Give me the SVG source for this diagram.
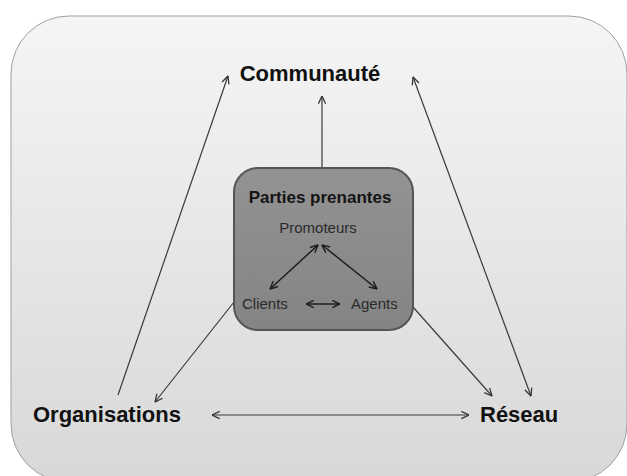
<svg xmlns="http://www.w3.org/2000/svg" width="627" height="476" viewBox="0 0 627 476">
  <defs>
    <linearGradient id="bgFill" x1="0" y1="0" x2="0" y2="1">
      <stop offset="0" stop-color="#f5f5f5"/>
      <stop offset="0.45" stop-color="#e8e8e8"/>
      <stop offset="1" stop-color="#d8d8d8"/>
    </linearGradient>
    <linearGradient id="boxFill" x1="0" y1="0" x2="0" y2="1">
      <stop offset="0" stop-color="#939393"/>
      <stop offset="1" stop-color="#848484"/>
    </linearGradient>
    <marker id="head" viewBox="0 0 10 10" refX="9.5" refY="5" markerWidth="9" markerHeight="9" markerUnits="userSpaceOnUse" orient="auto-start-reverse">
      <path d="M1,1 L9.5,5 L1,9" fill="none" stroke="#333" stroke-width="1.4"/>
    </marker>
    <marker id="headDark" viewBox="0 0 10 10" refX="9.5" refY="5" markerWidth="9" markerHeight="9" markerUnits="userSpaceOnUse" orient="auto-start-reverse">
      <path d="M1,1 L9.5,5 L1,9" fill="none" stroke="#1e1e1e" stroke-width="1.6"/>
    </marker>
  </defs>
  <style>
    .lbl { font-family: "Liberation Sans", Arial, sans-serif; font-weight: bold; font-size: 22px; fill: #111; }
    .title { font-family: "Liberation Sans", Arial, sans-serif; font-weight: bold; font-size: 17px; fill: #141414; }
    .sub { font-family: "Liberation Sans", Arial, sans-serif; font-size: 15px; fill: #2a2a2a; }
    .link { fill: none; stroke: #3a3a3a; stroke-width: 1.2; }
    .inner { fill: none; stroke: #1e1e1e; stroke-width: 1.5; }
  </style>

  <!-- page background -->
  <rect x="0" y="0" width="627" height="476" fill="#ffffff"/>
  <rect id="panel" x="11" y="16" width="616" height="466" rx="58" ry="58" fill="url(#bgFill)" stroke="#a0a0a0" stroke-width="1"/>

  <!-- connectors -->
  <g id="connectors">
    <line class="link" x1="118" y1="395" x2="228" y2="76" marker-end="url(#head)"/>
    <line class="link" x1="322" y1="168" x2="322" y2="96" marker-end="url(#head)"/>
    <line class="link" x1="413" y1="77" x2="531" y2="396" marker-start="url(#head)" marker-end="url(#head)"/>
    <line class="link" x1="234" y1="302" x2="155" y2="402" marker-end="url(#head)"/>
    <line class="link" x1="413" y1="307" x2="492" y2="396" marker-end="url(#head)"/>
    <line class="link" x1="212" y1="415" x2="469" y2="415" marker-start="url(#head)" marker-end="url(#head)"/>
  </g>

  <g id="communaute">
    <text class="lbl" x="310" y="81" text-anchor="middle">Communauté</text>
  </g>
  <g id="organisations">
    <text class="lbl" x="33" y="422">Organisations</text>
  </g>
  <g id="reseau">
    <text class="lbl" x="480" y="422">Réseau</text>
  </g>

  <!-- stakeholders box with its inner relations -->
  <g id="parties-prenantes">
    <rect x="234" y="168" width="179" height="162" rx="24" ry="24" fill="url(#boxFill)" stroke="#555" stroke-width="2"/>
    <text class="title" x="320" y="203" text-anchor="middle">Parties prenantes</text>
    <text class="sub" x="318" y="233" text-anchor="middle">Promoteurs</text>
    <text class="sub" x="242" y="309">Clients</text>
    <text class="sub" x="351" y="309">Agents</text>
    <line class="inner" x1="318" y1="245" x2="270" y2="289" marker-start="url(#headDark)" marker-end="url(#headDark)"/>
    <line class="inner" x1="322" y1="245" x2="377" y2="289" marker-start="url(#headDark)" marker-end="url(#headDark)"/>
    <line class="inner" x1="306" y1="304" x2="340" y2="304" marker-start="url(#headDark)" marker-end="url(#headDark)"/>
  </g>
</svg>
